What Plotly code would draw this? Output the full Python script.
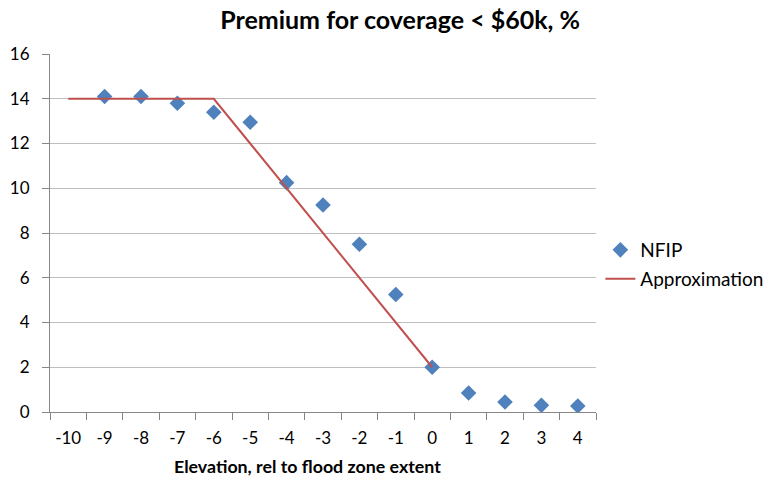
import plotly.graph_objects as go

categories = [-10, -9, -8, -7, -6, -5, -4, -3, -2, -1, 0, 1, 2, 3, 4]
nfip = [None, 14.1, 14.1, 13.8, 13.4, 12.95, 10.25, 9.25, 7.5, 5.25, 2.0, 0.85, 0.45, 0.3, 0.27]
approx = [14, 14, 14, 14, 14, 12, 10, 8, 6, 4, 2, None, None, None, None]
yticks = [0, 2, 4, 6, 8, 10, 12, 14, 16]

cats = [str(c) for c in categories]
font = "Lato, Open Sans, sans-serif"

fig = go.Figure()
fig.add_trace(go.Scatter(x=cats, y=nfip, mode="markers", name="NFIP", legend="legend",
                         marker=dict(symbol="diamond", size=12, color="#4F81BD")))
fig.add_trace(go.Scatter(x=cats, y=approx, mode="lines", name="Approximation", legend="legend2",
                         line=dict(color="#C0504D", width=2)))

leg_common = dict(xanchor="left", yanchor="middle", font=dict(size=19), itemwidth=30,
                  bgcolor="rgba(0,0,0,0)")
fig.update_layout(
    width=765, height=485,
    margin=dict(l=50, r=169, t=54, b=73, autoexpand=False),
    paper_bgcolor="white", plot_bgcolor="white",
    font=dict(family=font, size=17, color="black"),
    title=dict(text="<b>Premium for coverage < $60k, %</b>", x=0.523, xanchor="center",
               y=0.958, yanchor="middle", font=dict(size=25, family=font)),
    legend=dict(x=1.008, y=0.4525, **leg_common),
    legend2=dict(x=1.008, y=0.3715, **leg_common),
    showlegend=True,
    annotations=[dict(text="<b>Elevation, rel to flood zone extent</b>", xref="paper", yref="paper",
                      x=0.4717, y=-0.151, xanchor="center", yanchor="middle", showarrow=False,
                      font=dict(size=17.8))],
)
fig.update_xaxes(type="category", categoryorder="array", categoryarray=cats,
                 range=[-0.5, len(cats) - 0.5],
                 tickson="boundaries", ticks="outside", ticklen=7, tickcolor="#868686",
                 tickangle=0, ticklabelstandoff=11,
                 showline=True, linecolor="#868686", linewidth=1, showgrid=False,
                 automargin=False, tickfont=dict(size=17))
fig.update_yaxes(range=[0, 16], tickvals=yticks, ticks="outside", ticklen=7, tickcolor="#868686",
                 ticklabelstandoff=9,
                 showline=True, linecolor="#868686", linewidth=1, automargin=False,
                 showgrid=True, gridcolor="#BFBFBF", gridwidth=1, zeroline=False,
                 tickfont=dict(size=17))

fig.write_html("out.html", config={"displayModeBar": False},
               post_script="document.body.style.margin='0';")
